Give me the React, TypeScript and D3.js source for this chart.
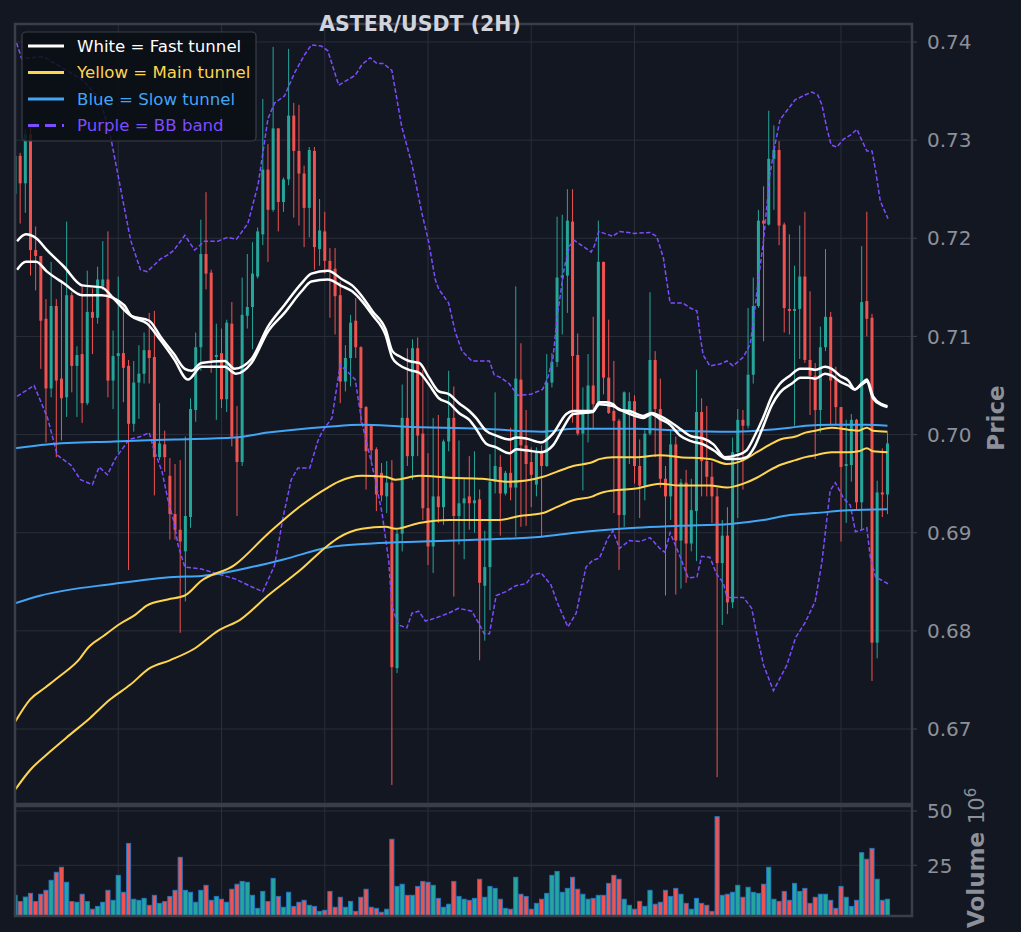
import * as d3 from 'd3';
import { useEffect, useRef } from 'react';

const WIDTH = 1021;
const HEIGHT = 932;

// OHLC per 2H candle, index 0..169
const opens = [
  0.7245,
  0.7284, 0.7256, 0.7306, 0.7188, 0.7182, 0.7118, 0.7047, 0.7131, 0.7057, 0.7038,
  0.7142, 0.7070, 0.7082, 0.7032, 0.7125, 0.7119, 0.7151, 0.7158, 0.7055, 0.7080,
  0.7083, 0.7070, 0.7011, 0.7053, 0.7062, 0.7086, 0.7079, 0.6977, 0.6990, 0.6958,
  0.6919, 0.6903, 0.6881, 0.6916, 0.7025, 0.7089, 0.7184, 0.7165, 0.7079, 0.7083,
  0.7036, 0.7113, 0.6998, 0.6972, 0.7121, 0.7130, 0.7161, 0.7204, 0.7270, 0.7229,
  0.7312, 0.7237, 0.7260, 0.7325, 0.7289, 0.7266, 0.7231, 0.7289, 0.7189, 0.7207,
  0.7177, 0.7169, 0.7142, 0.7054, 0.7078, 0.7116, 0.7089, 0.7028, 0.7009, 0.6985,
  0.6961, 0.6937, 0.6951, 0.6762, 0.6899, 0.7017, 0.6978, 0.7088, 0.7001, 0.6925,
  0.6886, 0.6937, 0.6926, 0.6993, 0.7017, 0.6917, 0.6930, 0.6937, 0.6930, 0.6934,
  0.6846, 0.6865, 0.6952, 0.6967, 0.6940, 0.6961, 0.6946, 0.7056, 0.6989, 0.6972,
  0.6949, 0.6982, 0.6968, 0.7053, 0.7074, 0.7160, 0.7162, 0.7217, 0.7081, 0.7001,
  0.7021, 0.7050, 0.7031, 0.7176, 0.7058, 0.7024, 0.7014, 0.6918, 0.7021, 0.7034,
  0.6968, 0.6948, 0.7001, 0.7076, 0.7026, 0.6955, 0.6937, 0.6990, 0.6892, 0.6951,
  0.6889, 0.6922, 0.7023, 0.6973, 0.6957, 0.6937, 0.6869, 0.6897, 0.6829, 0.6982,
  0.7015, 0.7009, 0.7061, 0.7131, 0.7218, 0.7214, 0.7281, 0.7290, 0.7214, 0.7128,
  0.7126, 0.7128, 0.7161, 0.7076, 0.7060, 0.7025, 0.7089, 0.7120, 0.7057, 0.7028,
  0.6968, 0.6969, 0.7015, 0.6931, 0.7136, 0.7119, 0.6788, 0.6941, 0.6939,
];
const highs = [
  0.7300,
  0.7287, 0.7311, 0.7314, 0.7212, 0.7182, 0.7138, 0.7176, 0.7138, 0.7157, 0.7217,
  0.7145, 0.7090, 0.7152, 0.7167, 0.7149, 0.7171, 0.7197, 0.7207, 0.7106, 0.7161,
  0.7132, 0.7076, 0.7075, 0.7091, 0.7104, 0.7124, 0.7126, 0.7032, 0.7004, 0.6976,
  0.6970, 0.6974, 0.6998, 0.7037, 0.7104, 0.7219, 0.7247, 0.7168, 0.7113, 0.7108,
  0.7117, 0.7135, 0.7029, 0.7160, 0.7184, 0.7196, 0.7211, 0.7342, 0.7296, 0.7395,
  0.7312, 0.7262, 0.7393, 0.7338, 0.7336, 0.7274, 0.7293, 0.7293, 0.7240, 0.7227,
  0.7190, 0.7190, 0.7156, 0.7091, 0.7122, 0.7139, 0.7090, 0.7029, 0.7010, 0.6987,
  0.6971, 0.6973, 0.6974, 0.6905, 0.7051, 0.7088, 0.7097, 0.7099, 0.7066, 0.6981,
  0.7017, 0.7020, 0.6995, 0.7065, 0.7049, 0.6994, 0.6955, 0.6978, 0.6983, 0.6944,
  0.6902, 0.6980, 0.7043, 0.6979, 0.6963, 0.7007, 0.7151, 0.7093, 0.7025, 0.6987,
  0.6987, 0.6989, 0.7082, 0.7083, 0.7222, 0.7224, 0.7250, 0.7250, 0.7103, 0.7048,
  0.7082, 0.7120, 0.7218, 0.7176, 0.7117, 0.7075, 0.7016, 0.7044, 0.7043, 0.7040,
  0.6995, 0.7006, 0.7145, 0.7085, 0.7057, 0.6968, 0.7004, 0.6998, 0.6955, 0.6964,
  0.6955, 0.7066, 0.7037, 0.7029, 0.6972, 0.6946, 0.6913, 0.6926, 0.6997, 0.7026,
  0.7025, 0.7129, 0.7160, 0.7229, 0.7253, 0.7330, 0.7315, 0.7299, 0.7216, 0.7204,
  0.7172, 0.7213, 0.7227, 0.7146, 0.7073, 0.7110, 0.7189, 0.7125, 0.7069, 0.7028,
  0.7015, 0.7021, 0.7016, 0.7192, 0.7227, 0.7123, 0.6953, 0.6986, 0.7002,
];
const lows = [
  0.7230,
  0.7215, 0.7226, 0.7162, 0.7147, 0.7067, 0.6992, 0.7038, 0.6977, 0.6994, 0.7018,
  0.7043, 0.7018, 0.7012, 0.7030, 0.7082, 0.7113, 0.7147, 0.7038, 0.7026, 0.6982,
  0.7033, 0.6862, 0.7003, 0.7016, 0.7052, 0.7052, 0.6938, 0.6974, 0.6962, 0.6893,
  0.6893, 0.6798, 0.6830, 0.6905, 0.7013, 0.7065, 0.7148, 0.7063, 0.7015, 0.7027,
  0.7023, 0.6988, 0.6917, 0.6968, 0.7108, 0.7087, 0.7159, 0.7193, 0.7176, 0.7227,
  0.7207, 0.7227, 0.7254, 0.7221, 0.7213, 0.7191, 0.7201, 0.7168, 0.7172, 0.7164,
  0.7119, 0.7102, 0.7032, 0.7044, 0.7049, 0.7078, 0.7012, 0.6944, 0.6973, 0.6922,
  0.6932, 0.6920, 0.6643, 0.6757, 0.6881, 0.6968, 0.6954, 0.6978, 0.6913, 0.6867,
  0.6859, 0.6910, 0.6908, 0.6983, 0.6835, 0.6888, 0.6873, 0.6903, 0.6900, 0.6770,
  0.6790, 0.6821, 0.6940, 0.6897, 0.6938, 0.6933, 0.6896, 0.6906, 0.6907, 0.6926,
  0.6937, 0.6896, 0.6967, 0.7048, 0.7069, 0.7102, 0.7124, 0.7012, 0.6999, 0.6943,
  0.6992, 0.7006, 0.7028, 0.7041, 0.7021, 0.6920, 0.6862, 0.6906, 0.6970, 0.6950,
  0.6915, 0.6933, 0.6999, 0.6977, 0.6946, 0.6836, 0.6913, 0.6837, 0.6843, 0.6849,
  0.6881, 0.6871, 0.6937, 0.6937, 0.6910, 0.6651, 0.6806, 0.6817, 0.6823, 0.6915,
  0.6944, 0.7006, 0.7052, 0.7129, 0.7095, 0.7213, 0.7229, 0.7193, 0.7104, 0.7102,
  0.7009, 0.7077, 0.7073, 0.7020, 0.6975, 0.7002, 0.7085, 0.7010, 0.7010, 0.6891,
  0.6910, 0.6952, 0.6923, 0.6903, 0.7100, 0.6749, 0.6772, 0.6916, 0.6919,
];
const closes = [
  0.7284,
  0.7256, 0.7306, 0.7188, 0.7182, 0.7116, 0.7047, 0.7131, 0.7055, 0.7037, 0.7142,
  0.7070, 0.7081, 0.7032, 0.7125, 0.7119, 0.7158, 0.7158, 0.7055, 0.7080, 0.7083,
  0.7068, 0.7011, 0.7053, 0.7062, 0.7086, 0.7078, 0.6977, 0.6991, 0.6977, 0.6919,
  0.6903, 0.6891, 0.6917, 0.7026, 0.7089, 0.7184, 0.7164, 0.7076, 0.7081, 0.7036,
  0.7114, 0.6998, 0.6972, 0.7122, 0.7130, 0.7164, 0.7207, 0.7270, 0.7229, 0.7312,
  0.7237, 0.7260, 0.7325, 0.7289, 0.7266, 0.7231, 0.7290, 0.7191, 0.7208, 0.7177,
  0.7168, 0.7141, 0.7054, 0.7078, 0.7114, 0.7089, 0.7027, 0.6983, 0.6984, 0.6939,
  0.6938, 0.6951, 0.6763, 0.6899, 0.7017, 0.6978, 0.7088, 0.6999, 0.6925, 0.6886,
  0.6937, 0.6926, 0.6993, 0.7017, 0.6917, 0.6930, 0.6935, 0.6930, 0.6933, 0.6849,
  0.6865, 0.6952, 0.6968, 0.6940, 0.6961, 0.6946, 0.7057, 0.6989, 0.6970, 0.6959,
  0.6982, 0.6968, 0.7053, 0.7074, 0.7160, 0.7162, 0.7218, 0.7080, 0.7001, 0.7021,
  0.7050, 0.7031, 0.7176, 0.7058, 0.7022, 0.7014, 0.6918, 0.7043, 0.7034, 0.6968,
  0.6948, 0.7001, 0.7076, 0.7026, 0.6955, 0.6937, 0.6990, 0.6892, 0.6951, 0.6889,
  0.6923, 0.7023, 0.6973, 0.6957, 0.6937, 0.6869, 0.6897, 0.6829, 0.6982, 0.7015,
  0.7009, 0.7061, 0.7131, 0.7218, 0.7215, 0.7281, 0.7290, 0.7213, 0.7129, 0.7126,
  0.7128, 0.7161, 0.7076, 0.7060, 0.7025, 0.7089, 0.7120, 0.7055, 0.7028, 0.6967,
  0.6970, 0.7015, 0.6931, 0.7135, 0.7118, 0.6788, 0.6941, 0.6939, 0.6991,
];
// volume in millions
const volumes = [
  11.2,
  8.3, 10.4, 12.1, 8.3, 11.7, 13.5, 18.1, 21.8, 24.1, 17.2,
  8.3, 8.0, 11.7, 8.3, 4.8, 6.1, 8.0, 13.5, 8.9, 20.4,
  12.6, 35.1, 9.4, 8.9, 9.8, 6.6, 11.2, 7.5, 8.3, 10.7,
  13.5, 28.7, 13.5, 12.6, 8.0, 13.5, 15.8, 8.9, 10.7, 9.4,
  8.0, 14.0, 16.3, 17.6, 17.2, 11.2, 5.2, 13.0, 8.3, 19.0,
  10.7, 5.7, 12.6, 6.1, 8.0, 8.9, 6.6, 6.1, 3.8, 4.3,
  13.0, 5.7, 10.3, 5.7, 8.4, 3.8, 10.3, 14.0, 5.7, 5.2,
  3.4, 4.8, 37.0, 15.3, 16.3, 11.2, 11.2, 15.3, 17.6, 17.2,
  15.8, 9.8, 5.7, 7.1, 17.6, 10.7, 9.4, 8.9, 9.8, 18.6,
  10.3, 15.3, 14.4, 9.4, 5.2, 4.8, 19.5, 11.7, 10.7, 4.8,
  7.5, 9.4, 12.1, 20.4, 22.2, 12.6, 14.4, 19.5, 14.0, 11.7,
  9.4, 9.8, 11.2, 11.2, 16.7, 20.4, 18.6, 9.4, 6.6, 4.8,
  8.4, 6.1, 13.5, 7.1, 8.0, 13.5, 10.7, 14.4, 11.7, 7.5,
  4.8, 9.8, 7.5, 6.6, 3.8, 47.4, 11.2, 11.7, 12.6, 15.8,
  10.3, 14.9, 12.6, 12.1, 16.3, 24.1, 9.4, 8.4, 13.0, 8.9,
  16.7, 13.0, 14.4, 7.5, 10.3, 11.7, 11.7, 8.9, 5.2, 15.3,
  10.3, 6.1, 8.9, 30.8, 27.8, 32.8, 18.6, 8.9, 9.4,
];

// indicator lines, read as [candle index, price]
const fastUpper = [
  [0.4, 0.7197], [2.1, 0.7204], [4.1, 0.72], [6.2, 0.7188], [9.5, 0.7171], [13, 0.7152], [16.8, 0.715],
  [19.2, 0.7138], [22.5, 0.7121], [26, 0.7116], [28.3, 0.7099], [30.8, 0.7082], [32.9, 0.7067], [34.2, 0.7065],
  [36.1, 0.7073], [40.6, 0.7075], [42.5, 0.7067], [45.8, 0.7077], [49, 0.711], [52.2, 0.7132], [55.5, 0.7154],
  [57.4, 0.7164], [60.6, 0.7167], [63.4, 0.7158], [65.3, 0.7152], [67.2, 0.7141], [69.2, 0.7126], [71.8, 0.7107],
  [73.1, 0.7085], [74.4, 0.708], [76.3, 0.7075], [78.3, 0.7073], [80.2, 0.7058], [82.1, 0.7044], [84.1, 0.7041],
  [86, 0.7032], [88, 0.7024], [89.3, 0.7017], [91.2, 0.7004], [93.2, 0.6999], [95.8, 0.6995], [97.1, 0.6997],
  [99, 0.6996], [101.9, 0.6992], [104.2, 0.7001], [106.8, 0.7021], [108.1, 0.7024], [111.9, 0.7024],
  [113.2, 0.7033], [114.5, 0.7033], [115.8, 0.7031], [117.1, 0.7025], [119, 0.7024], [121.7, 0.7019],
  [123.3, 0.7022], [124.9, 0.7019], [126.9, 0.7013], [128.8, 0.7006], [131.1, 0.6998], [133.3, 0.6996],
  [135.3, 0.699], [137.5, 0.6977], [139.8, 0.6979], [141.7, 0.6984], [143.3, 0.6999], [144.9, 0.7017],
  [146.6, 0.7039], [148.2, 0.7052], [150.1, 0.706], [152.1, 0.7067], [153.7, 0.7067], [155, 0.7066],
  [156.9, 0.7069], [158.2, 0.7067], [159.8, 0.706], [161.4, 0.7055], [162.7, 0.7046], [164, 0.7052],
  [165, 0.7056], [166.2, 0.7039], [167.9, 0.7031], [169, 0.7029],
];
const fastLower = [
  [0.4, 0.7168], [2.1, 0.7176], [4.1, 0.7176], [6.2, 0.7166], [9.5, 0.7154], [13, 0.7142], [16.8, 0.7142],
  [21.1, 0.7132], [22.5, 0.7121], [25.6, 0.7113], [28.2, 0.7096], [30.8, 0.7077], [33.5, 0.7056], [36.1, 0.7069],
  [40.6, 0.7069], [42.8, 0.7062], [45.8, 0.7073], [49, 0.7105], [52.2, 0.7124], [55.5, 0.7146], [57.4, 0.7156],
  [60.6, 0.7158], [63.4, 0.7151], [65.3, 0.7146], [67.2, 0.7136], [69.2, 0.7122], [71.8, 0.7101], [73.1, 0.7078],
  [74.4, 0.7071], [76.3, 0.7066], [78.3, 0.7063], [80.2, 0.7051], [82.1, 0.7037], [84.1, 0.7032], [86, 0.7022],
  [88, 0.7015], [89.3, 0.7006], [91.2, 0.6991], [93.2, 0.6987], [95.8, 0.6981], [97.1, 0.6985], [99, 0.6984],
  [101.9, 0.6982], [104.2, 0.6989], [106.2, 0.7007], [108.1, 0.7021], [111.9, 0.7023], [113.2, 0.7031],
  [115.8, 0.7029], [117.8, 0.7024], [119.1, 0.7021], [121.7, 0.7017], [123.3, 0.7021], [124.9, 0.7016],
  [126.9, 0.701], [128.8, 0.6999], [131.1, 0.6993], [133.3, 0.699], [135.3, 0.6984], [137.9, 0.6975],
  [139.8, 0.6975], [141.7, 0.6977], [143.3, 0.6988], [144.9, 0.7008], [146.6, 0.703], [148.2, 0.7043],
  [150.5, 0.7052], [152.1, 0.7058], [153.7, 0.7058], [155, 0.7057], [156.9, 0.7062], [158.2, 0.706],
  [159.8, 0.7054], [161.4, 0.705], [162.7, 0.7046], [164, 0.7051], [165, 0.7054], [166.2, 0.7037],
  [167.9, 0.703], [169, 0.7028],
];
const mainUpper = [
  [0, 0.6707], [2.9, 0.673], [5.8, 0.6742], [8.7, 0.6754], [12.6, 0.6772], [14, 0.6782], [17.2, 0.6795],
  [20.3, 0.6807], [23.2, 0.6816], [25.6, 0.6826], [29.6, 0.6832], [32.9, 0.6836], [36.1, 0.6851], [42.5, 0.6867],
  [49, 0.6899], [55.5, 0.6928], [60.6, 0.6946], [62.7, 0.6952], [67.2, 0.6958], [71.8, 0.6957], [73.7, 0.6954],
  [78.3, 0.6958], [84.1, 0.6956], [90.5, 0.6955], [95.8, 0.6952], [102.3, 0.6957], [104.9, 0.6962],
  [108.1, 0.6968], [111.9, 0.6972], [113.2, 0.6975], [115.8, 0.6977], [120.3, 0.6977], [124.9, 0.6979],
  [128.8, 0.6977], [134.6, 0.6975], [137.9, 0.697], [141.1, 0.6974], [143.7, 0.6982], [146.3, 0.699],
  [148.2, 0.6995], [151.2, 0.6998], [153.1, 0.7002], [155, 0.7004], [158.2, 0.7007], [161.4, 0.7005],
  [163.4, 0.7004], [165, 0.7007], [166.2, 0.7004], [169, 0.7003],
];
const mainLower = [
  [0, 0.6638], [2.9, 0.6658], [6.8, 0.6677], [10.6, 0.6694], [14.5, 0.6711], [18.4, 0.673], [22.3, 0.6745],
  [26.1, 0.6762], [30, 0.677], [34.8, 0.6782], [39.3, 0.68], [43.8, 0.6812], [49, 0.6836], [55.5, 0.6863],
  [60.6, 0.6887], [62.7, 0.6895], [67.2, 0.6904], [71.8, 0.6906], [73.7, 0.6904], [78.3, 0.691], [84.1, 0.6913],
  [90.5, 0.6913], [93.8, 0.6913], [97.7, 0.6917], [102.3, 0.692], [104.9, 0.6926], [108.1, 0.6933],
  [111.9, 0.6937], [113.2, 0.694], [115.8, 0.6943], [120.3, 0.6945], [124.9, 0.695], [128.8, 0.6948],
  [134.6, 0.6948], [137.9, 0.6946], [141.1, 0.695], [143.7, 0.6956], [146.3, 0.6964], [148.2, 0.6969],
  [151.2, 0.6974], [153.1, 0.6977], [155, 0.6979], [158.2, 0.6982], [161.4, 0.6982], [163.4, 0.6983],
  [165, 0.6986], [166.2, 0.6983], [169, 0.6982],
];
const slowUpper = [
  [0, 0.6986], [6.2, 0.699], [19.2, 0.6993], [30.8, 0.6995], [42.5, 0.6997], [49, 0.7002], [60.6, 0.7008],
  [67.2, 0.701], [75.6, 0.7008], [90.5, 0.7006], [102, 0.7003], [108.5, 0.7006], [120.3, 0.7006],
  [128.8, 0.7004], [138.5, 0.7003], [143.7, 0.7004], [150.1, 0.7007], [153.1, 0.7009], [158.2, 0.701],
  [164.7, 0.701], [169, 0.7009],
];
const slowLower = [
  [0, 0.6828], [5, 0.6836], [19.2, 0.6848], [30.8, 0.6855], [36.1, 0.6856], [45.8, 0.6865], [52.2, 0.6873],
  [60.6, 0.6885], [69.2, 0.6889], [78.9, 0.6891], [90.5, 0.6893], [102, 0.6896], [108.5, 0.69],
  [120.3, 0.6905], [128.8, 0.6907], [138.5, 0.6909], [144.9, 0.6913], [150.1, 0.6918], [155, 0.692],
  [161.4, 0.6923], [169, 0.6924],
];
const bbUpper = [
  [0.3, 0.7399], [1.3, 0.7383], [5.5, 0.7385], [10, 0.7371], [13.2, 0.7361], [16.5, 0.7341], [18.5, 0.7304],
  [21.1, 0.7233], [22.4, 0.7198], [24.3, 0.7168], [25.6, 0.7166], [28.2, 0.7179], [29.6, 0.7183], [30.8, 0.7188],
  [32.9, 0.7203], [34.8, 0.7188], [36.7, 0.7197], [39.3, 0.7197], [41.2, 0.7201], [42.9, 0.7199], [45.1, 0.7215],
  [47.1, 0.7255], [49, 0.7322], [50.3, 0.7338], [52.2, 0.7345], [54.2, 0.7369], [56.1, 0.7387], [57.4, 0.7397],
  [59.3, 0.7396], [60.6, 0.7391], [62.7, 0.7356], [65.9, 0.7366], [67.2, 0.7377], [68.8, 0.7384], [70.1, 0.7378],
  [71.4, 0.7378], [73, 0.7371], [74.9, 0.7314], [76.9, 0.7275], [78.8, 0.7226], [80.1, 0.7197], [81.4, 0.7158],
  [82.1, 0.7148], [84, 0.7134], [85.3, 0.7104], [86.6, 0.7085], [88.5, 0.7075], [90.5, 0.7075], [91.9, 0.7075],
  [92.8, 0.7061], [94.1, 0.7058], [95.7, 0.7052], [97.4, 0.704], [99.9, 0.7041], [102.2, 0.7046],
  [103.2, 0.7058], [104.2, 0.7078], [105.1, 0.7123], [106.4, 0.717], [107.4, 0.7192], [108.3, 0.7198],
  [110, 0.7192], [111.6, 0.7186], [112.2, 0.7192], [113.1, 0.7207], [115.8, 0.7202], [117.1, 0.7207],
  [120, 0.7205], [123, 0.7206], [124.3, 0.7202], [125.6, 0.718], [126.2, 0.7158], [126.9, 0.7134],
  [129.4, 0.7134], [130.8, 0.7129], [132.1, 0.7126], [132.7, 0.7101], [133.3, 0.7081], [134.6, 0.707],
  [136.6, 0.7072], [137.9, 0.7075], [139.1, 0.707], [141.1, 0.7079], [142.4, 0.7092], [143, 0.7114],
  [144, 0.7158], [145, 0.7198], [146.2, 0.7264], [147.2, 0.7295], [148.2, 0.7321], [151.1, 0.7341],
  [153, 0.7346], [154.4, 0.7349], [155.5, 0.7346], [156.3, 0.7336], [157.3, 0.7311], [158.1, 0.7295],
  [159.2, 0.7293], [160.5, 0.7301], [161.8, 0.7305], [163.1, 0.7311], [164.1, 0.7299], [165, 0.7289],
  [166, 0.7289], [166.7, 0.7269], [167.6, 0.7238], [169.1, 0.722],
];
const bbLower = [
  [0.4, 0.7039], [3.7, 0.705], [6.3, 0.7017], [8.2, 0.6979], [10.8, 0.6969], [12.7, 0.6954], [15, 0.6949],
  [16.3, 0.6967], [17.9, 0.6959], [19.5, 0.6976], [22.1, 0.6995], [24.3, 0.6998], [26, 0.7002], [26.9, 0.6985],
  [28.5, 0.6962], [29.6, 0.6934], [30.8, 0.6911], [31.6, 0.6887], [32.9, 0.6865], [36.1, 0.6863], [42.6, 0.6853],
  [45.8, 0.6845], [48, 0.684], [50.3, 0.6867], [51.9, 0.6915], [53.5, 0.6954], [54.8, 0.6966], [57.1, 0.6966],
  [58.7, 0.6994], [59.5, 0.7003], [61.4, 0.7017], [63, 0.7071], [64.6, 0.7063], [65.9, 0.7056], [67.2, 0.7012],
  [69.2, 0.6968], [71.1, 0.692], [72.4, 0.6871], [73, 0.6825], [74.3, 0.6806], [75.9, 0.6803], [76.9, 0.6818],
  [78.2, 0.682], [79.5, 0.681], [81.4, 0.6813], [84, 0.6818], [85.9, 0.6823], [88.5, 0.682], [89.8, 0.6808],
  [90.9, 0.6797], [91.9, 0.6797], [93.2, 0.6836], [95.1, 0.684], [97, 0.6846], [99, 0.6848], [100.3, 0.6857],
  [101.9, 0.6859], [103.8, 0.6847], [105.1, 0.6828], [107.1, 0.6804], [108.7, 0.6818], [110.6, 0.6865],
  [111.9, 0.6872], [113.2, 0.6874], [114.8, 0.6894], [115.8, 0.6902], [117.1, 0.6884], [119, 0.6892],
  [121.1, 0.6891], [123, 0.6895], [124.9, 0.6884], [125.9, 0.688], [126.9, 0.69], [128.8, 0.6876],
  [130.4, 0.6854], [132.1, 0.6855], [133, 0.6876], [134.6, 0.6875], [135.9, 0.6858], [137.2, 0.6849],
  [137.9, 0.6834], [141.1, 0.6834], [142.7, 0.6823], [143.7, 0.6796], [145, 0.6765], [146.9, 0.6739],
  [148.2, 0.6752], [149.5, 0.6765], [151.2, 0.6793], [153.1, 0.6809], [155, 0.683], [156.3, 0.687],
  [157.3, 0.6916], [157.9, 0.6943], [158.9, 0.6951], [160.5, 0.6935], [161.8, 0.6928], [162.8, 0.6901],
  [164.1, 0.6903], [165, 0.6905], [165.7, 0.6874], [166.7, 0.6855], [169.1, 0.6848],
];

const priceTicks = [0.67, 0.68, 0.69, 0.7, 0.71, 0.72, 0.73, 0.74];
const volumeTicks = [25, 50];
const xGridTicks = [20, 40, 60, 80, 100, 120, 140, 160];

const legendItems = [
  { label: 'White = Fast tunnel', color: '#ffffff', dashed: false },
  { label: 'Yellow = Main tunnel', color: '#ffd54f', dashed: false },
  { label: 'Blue = Slow tunnel', color: '#42a5f5', dashed: false },
  { label: 'Purple = BB band', color: '#7c4dff', dashed: true },
];

const BG = '#131722';
const GRID = '#2a2e39';
const SPINE = '#3a3e48';
const TEXT = '#8c9099';
const UP = '#26a69a';
const DOWN = '#ef5350';
const FONT = '"DejaVu Sans", Verdana, sans-serif';

export default function App(): React.ReactElement {
  const svgRef = useRef<SVGSVGElement>(null);

  useEffect(() => {
    document.body.style.margin = '0';
    if (!svgRef.current) return;
    const svg = d3.select(svgRef.current);
    svg.selectAll('*').remove();

    const left = 15;
    const right = 912;
    const pTop = 24;
    const pBottom = 804;
    const vTop = 806;
    const vBottom = 916;

    const x = d3.scaleLinear().domain([0, 173.75]).range([left, right]);
    const y = d3.scaleLinear().domain([0.662358, 0.741834]).range([pBottom, pTop]);
    const yv = d3.scaleLinear().domain([1.66, 52.3]).range([vBottom, vTop]);

    svg.append('rect').attr('width', WIDTH).attr('height', HEIGHT).attr('fill', BG);

    const defs = svg.append('defs');
    defs.append('clipPath').attr('id', 'clip-price')
      .append('rect').attr('x', left).attr('y', pTop).attr('width', right - left).attr('height', pBottom - pTop);
    defs.append('clipPath').attr('id', 'clip-vol')
      .append('rect').attr('x', left).attr('y', vTop).attr('width', right - left).attr('height', vBottom - vTop);

    // grid
    const grid = svg.append('g').attr('stroke', GRID).attr('stroke-width', 1);
    priceTicks.forEach((t) => {
      grid.append('line').attr('x1', left).attr('x2', right).attr('y1', y(t)).attr('y2', y(t));
    });
    volumeTicks.forEach((t) => {
      grid.append('line').attr('x1', left).attr('x2', right).attr('y1', yv(t)).attr('y2', yv(t));
    });
    xGridTicks.forEach((t) => {
      grid.append('line').attr('x1', x(t)).attr('x2', x(t)).attr('y1', pTop).attr('y2', pBottom);
      grid.append('line').attr('x1', x(t)).attr('x2', x(t)).attr('y1', vTop).attr('y2', vBottom);
    });

    // candles
    const candles = svg.append('g').attr('clip-path', 'url(#clip-price)');
    const bodyW = 3;
    opens.forEach((o, i) => {
      const c = closes[i];
      const color = c >= o ? UP : DOWN;
      const cx = x(i);
      candles.append('line')
        .attr('x1', cx).attr('x2', cx)
        .attr('y1', y(highs[i])).attr('y2', y(lows[i]))
        .attr('stroke', color).attr('stroke-width', 1);
      const top = y(Math.max(o, c));
      const h = Math.max(1, y(Math.min(o, c)) - top);
      candles.append('rect')
        .attr('x', cx - bodyW / 2).attr('y', top)
        .attr('width', bodyW).attr('height', h)
        .attr('fill', color);
    });

    // indicator lines
    const lineGen = (curve: d3.CurveFactory) =>
      d3.line<number[]>().x((d) => x(d[0])).y((d) => y(d[1])).curve(curve);
    const lines = svg.append('g').attr('clip-path', 'url(#clip-price)').attr('fill', 'none');
    [bbUpper, bbLower].forEach((s) => {
      lines.append('path').attr('d', lineGen(d3.curveLinear)(s))
        .attr('stroke', '#7c4dff').attr('stroke-width', 1.5).attr('stroke-dasharray', '4.5,2.2');
    });
    [slowUpper, slowLower].forEach((s) => {
      lines.append('path').attr('d', lineGen(d3.curveMonotoneX)(s))
        .attr('stroke', '#42a5f5').attr('stroke-width', 2);
    });
    [mainUpper, mainLower].forEach((s) => {
      lines.append('path').attr('d', lineGen(d3.curveMonotoneX)(s))
        .attr('stroke', '#ffd54f').attr('stroke-width', 2);
    });
    [fastUpper, fastLower].forEach((s) => {
      lines.append('path').attr('d', lineGen(d3.curveMonotoneX)(s))
        .attr('stroke', '#ffffff').attr('stroke-width', 2.5).attr('stroke-linejoin', 'round');
    });

    // volume bars
    const vol = svg.append('g').attr('clip-path', 'url(#clip-vol)');
    const barW = 4.2;
    volumes.forEach((v, i) => {
      const color = closes[i] >= opens[i] ? UP : DOWN;
      vol.append('rect')
        .attr('x', x(i) - barW / 2).attr('y', yv(v))
        .attr('width', barW).attr('height', yv(0) - yv(v))
        .attr('fill', color).attr('stroke', '#1f78c8').attr('stroke-width', 0.9);
    });

    // panel borders
    svg.append('rect').attr('x', left).attr('y', pTop).attr('width', right - left).attr('height', pBottom - pTop)
      .attr('fill', 'none').attr('stroke', SPINE).attr('stroke-width', 2.5);
    svg.append('rect').attr('x', left).attr('y', vTop).attr('width', right - left).attr('height', vBottom - vTop)
      .attr('fill', 'none').attr('stroke', SPINE).attr('stroke-width', 2.5);

    // right axis ticks and labels
    const axis = svg.append('g').attr('font-family', FONT).attr('fill', TEXT);
    priceTicks.forEach((t) => {
      axis.append('line').attr('x1', right).attr('x2', right + 5).attr('y1', y(t)).attr('y2', y(t))
        .attr('stroke', SPINE).attr('stroke-width', 1.2);
      axis.append('text').attr('x', right + 15).attr('y', y(t)).attr('dy', '0.36em')
        .attr('font-size', 20).text(t.toFixed(2));
    });
    volumeTicks.forEach((t) => {
      axis.append('line').attr('x1', right).attr('x2', right + 5).attr('y1', yv(t)).attr('y2', yv(t))
        .attr('stroke', SPINE).attr('stroke-width', 1.2);
      axis.append('text').attr('x', right + 15).attr('y', yv(t)).attr('dy', '0.36em')
        .attr('font-size', 20).text(String(t));
    });

    axis.append('text')
      .attr('transform', `translate(1004, ${(pTop + pBottom) / 2 + 4}) rotate(-90)`)
      .attr('text-anchor', 'middle').attr('font-size', 23).attr('font-weight', 'bold')
      .text('Price');
    axis.append('text')
      .attr('transform', 'translate(984, 880) rotate(-90)')
      .attr('text-anchor', 'middle').attr('font-size', 23).attr('font-weight', 'bold')
      .text('Volume');
    const off = axis.append('text')
      .attr('transform', 'translate(984, 824) rotate(-90)')
      .attr('font-size', 21);
    off.append('tspan').text('10');
    off.append('tspan').attr('dy', -8).attr('font-size', 15).text('6');

    // legend
    const lg = svg.append('g').attr('font-family', FONT);
    lg.append('rect').attr('x', 22).attr('y', 32).attr('width', 234).attr('height', 109).attr('rx', 4)
      .attr('fill', '#0b0e14').attr('fill-opacity', 0.85).attr('stroke', SPINE).attr('stroke-width', 1.2);
    legendItems.forEach((item, k) => {
      const ly = 46 + k * 26.5;
      lg.append('line').attr('x1', 28).attr('x2', 64).attr('y1', ly).attr('y2', ly)
        .attr('stroke', item.color).attr('stroke-width', 3)
        .attr('stroke-dasharray', item.dashed ? '11,6' : null);
      lg.append('text').attr('x', 77).attr('y', ly).attr('dy', '0.36em')
        .attr('font-size', 16.6).attr('fill', item.color).text(item.label);
    });

    // title
    svg.append('text').attr('x', 420).attr('y', 31).attr('text-anchor', 'middle')
      .attr('font-family', FONT).attr('font-size', 20.5).attr('font-weight', 'bold')
      .attr('fill', '#d1d4dc').text('ASTER/USDT (2H)');
  }, []);

  return (
    <div style={{ position: 'absolute', left: 0, top: 0 }}>
      <svg ref={svgRef} width={WIDTH} height={HEIGHT} style={{ display: 'block' }} />
    </div>
  );
}
